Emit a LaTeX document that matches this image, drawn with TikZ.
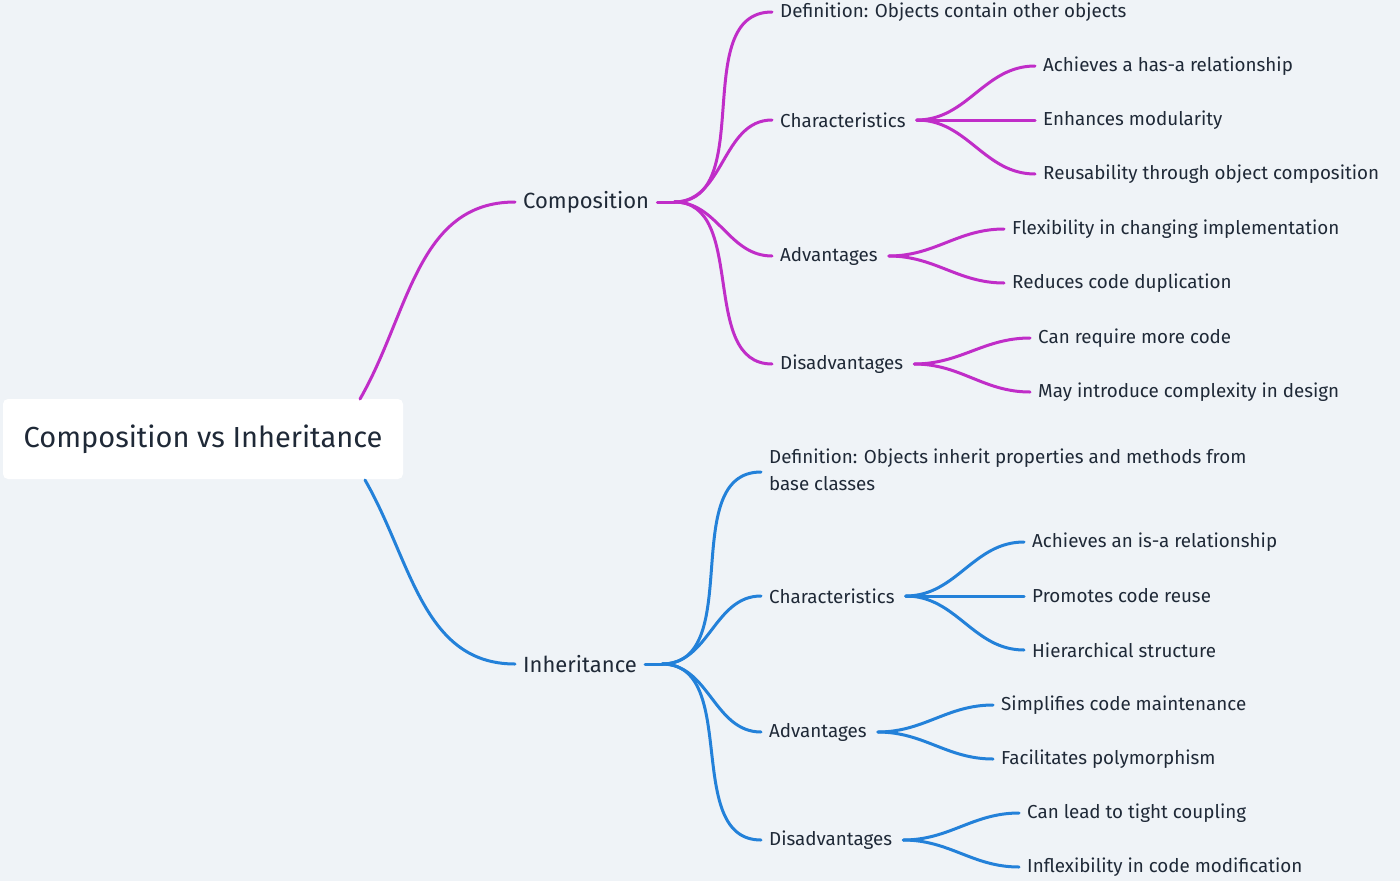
\documentclass[tikz,border=0pt]{standalone}
\usepackage{fontspec}
\setmainfont{Fira Sans}
\usetikzlibrary{calc}
\definecolor{bg}{HTML}{EFF3F7}
\definecolor{pur}{HTML}{C02DC8}
\definecolor{blu}{HTML}{2381D9}
\definecolor{txt}{HTML}{1F2937}
\tikzset{
  leaf/.style={anchor=west,inner xsep=8pt,inner ysep=2pt,font=\fontsize{18.8}{27}\selectfont,text=txt},
  main/.style={anchor=west,inner xsep=8pt,font=\fontsize{22}{26}\selectfont,text=txt},
  conn/.style={line width=3pt,line cap=round},
  cp/.style={conn,draw=pur},
  cb/.style={conn,draw=blu},
}
\begin{document}
\begin{tikzpicture}[x=1pt,y=-1pt]
\fill[bg] (0,0) rectangle (1400,881);
\useasboundingbox (0,0) rectangle (1400,881);
\node[fill=white,rounded corners=5pt,minimum width=400pt,minimum height=80pt,font=\fontsize{29}{34}\selectfont,text=txt] (root) at (203,439) {Composition vs Inheritance};
\coordinate (rt) at (360,399);
\coordinate (rb) at (365,480);
% composition
\node[main] (comp) at (515,202) {Composition};
\node[leaf] (cdef) at (772,12) {Definition: Objects contain other objects};
\node[leaf] (cch) at (772,120) {Characteristics};
\node[leaf] (cad) at (772,256) {Advantages};
\node[leaf] (cdis) at (772,364) {Disadvantages};
\node[leaf] (c1) at (1035,66) {Achieves a has-a relationship};
\node[leaf] (c2) at (1035,120) {Enhances modularity};
\node[leaf] (c3) at (1035,174) {Reusability through object composition};
\node[leaf] (a1) at (1004,229) {Flexibility in changing implementation};
\node[leaf] (a2) at (1004,283) {Reduces code duplication};
\node[leaf] (d1) at (1030,338) {Can require more code};
\node[leaf] (d2) at (1030,392) {May introduce complexity in design};
\draw[cp] (rt) to[out=60,in=180] (comp.west);
\coordinate (cj) at ($(comp.east)+(17,0)$);
\draw[cp] (comp.east) -- (cj);
\foreach \n in {cdef,cch,cad,cdis} {\draw[cp] (cj) to[out=0,in=180] (\n.west);}
\coordinate (chj) at ($(cch.east)+(3,0)$);
\foreach \n in {c1,c2,c3} {\draw[cp] (chj) to[out=0,in=180] (\n.west);}
\coordinate (adj) at ($(cad.east)+(3,0)$);
\foreach \n in {a1,a2} {\draw[cp] (adj) to[out=0,in=180] (\n.west);}
\coordinate (dsj) at ($(cdis.east)+(3,0)$);
\foreach \n in {d1,d2} {\draw[cp] (dsj) to[out=0,in=180] (\n.west);}
% inheritance
\node[main] (inh) at (515,664) {Inheritance};
\node[leaf,align=left,anchor=north west] (idef) at (761,447) {Definition: Objects inherit properties and methods from\\base classes};
\coordinate (idefw) at (761,472);
\node[leaf] (ich) at (761,596) {Characteristics};
\node[leaf] (iad) at (761,732) {Advantages};
\node[leaf] (idis) at (761,840) {Disadvantages};
\node[leaf] (i1) at (1024,542) {Achieves an is-a relationship};
\node[leaf] (i2) at (1024,596) {Promotes code reuse};
\node[leaf] (i3) at (1024,650) {Hierarchical structure};
\node[leaf] (b1) at (993,705) {Simplifies code maintenance};
\node[leaf] (b2) at (993,759) {Facilitates polymorphism};
\node[leaf] (e1) at (1019,813) {Can lead to tight coupling};
\node[leaf] (e2) at (1019,867) {Inflexibility in code modification};
\draw[cb] (rb) to[out=-60,in=180] (inh.west);
\coordinate (ij) at ($(inh.east)+(17,0)$);
\draw[cb] (inh.east) -- (ij);
\draw[cb] (ij) to[out=0,in=180] (idefw);
\foreach \n in {ich,iad,idis} {\draw[cb] (ij) to[out=0,in=180] (\n.west);}
\coordinate (ichj) at ($(ich.east)+(3,0)$);
\foreach \n in {i1,i2,i3} {\draw[cb] (ichj) to[out=0,in=180] (\n.west);}
\coordinate (iadj) at ($(iad.east)+(3,0)$);
\foreach \n in {b1,b2} {\draw[cb] (iadj) to[out=0,in=180] (\n.west);}
\coordinate (idsj) at ($(idis.east)+(3,0)$);
\foreach \n in {e1,e2} {\draw[cb] (idsj) to[out=0,in=180] (\n.west);}
\end{tikzpicture}
\end{document}
